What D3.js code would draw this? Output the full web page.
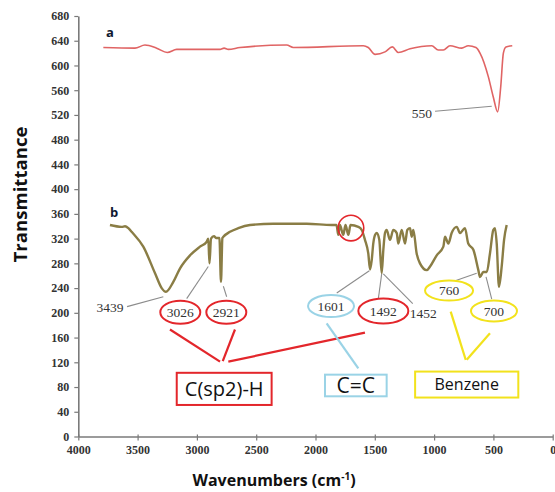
<!DOCTYPE html>
<html>
<head>
<meta charset="utf-8">
<script src="https://cdn.jsdelivr.net/npm/d3@7"></script>
<style>
  html, body { margin: 0; padding: 0; background: #fff; }
  svg { display: block; }
</style>
</head>
<body>
<div class="chart-container"></div>
<script>
const width = 555;
const height = 492;

// axis ticks
const xTicks = [4000, 3500, 3000, 2500, 2000, 1500, 1000, 500, 0];
const yTicks = d3.range(0, 681, 40);

// spectrum a (red)
const aWave  = [3789, 3522, 3438, 3339, 3250, 3170, 2805, 2771, 2735, 2637, 2243, 2187, 1597, 1555, 1498, 1414, 1352, 1302, 1203, 1020, 965, 922, 866, 767, 712, 647, 613, 543, 501, 464, 438, 416, 394, 341];
const aTrans = [629, 628, 633, 628, 621, 626, 626, 628, 626, 629, 633, 629, 632, 629, 618, 622, 630, 621, 627, 632, 625, 625, 632, 628, 632, 629, 620, 582, 549, 525, 566, 620, 630, 632];

// spectrum b (olive)
const bWave  = [3733, 3634, 3606, 3578, 3550, 3452, 3353, 3297, 3261, 3199, 3142, 3058, 2974, 2917, 2904, 2894, 2881, 2856, 2839, 2810, 2797, 2785, 2777, 2721, 2651, 2552, 2356, 2074, 1863, 1823, 1808, 1794, 1766, 1747, 1723, 1705, 1639, 1610, 1583, 1555, 1540, 1526, 1513, 1498, 1484, 1462, 1442, 1428, 1414, 1400, 1372, 1344, 1315, 1302, 1273, 1245, 1226, 1203, 1189, 1175, 1147, 1119, 1062, 1034, 978, 922, 908, 880, 852, 809, 782, 740, 712, 669, 627, 613, 585, 556, 529, 501, 487, 472, 453, 430, 410, 388];
const bTrans = [342, 339, 340, 337, 331, 307, 264, 240, 234, 250, 272, 293, 307, 315, 320, 280, 320, 324, 321, 321, 250, 321, 323, 331, 337, 342, 344, 344, 342, 342, 326, 342, 326, 342, 326, 342, 339, 334, 318, 296, 270, 285, 312, 326, 329, 318, 264, 302, 329, 334, 318, 334, 329, 312, 334, 312, 334, 337, 323, 334, 296, 280, 269, 275, 293, 307, 323, 312, 329, 339, 329, 337, 312, 302, 269, 258, 266, 266, 296, 334, 337, 312, 242, 275, 318, 342];

// peak labels: text, position (wavenumber, transmittance), outline colour, leader lines
const peakText   = ["3439", "3026", "2921", "1601", "1492", "1452", "760", "700", "550"];
const peakWave   = [3733, 3140, 2752, 1869, 1428, 1091, 874, 495, 1104];
const peakTrans  = [209, 201, 201, 211, 203, 199, 236, 203, 523];
const peakRing   = [null, "#e3262b", "#e3262b", "#9ad3e6", "#e3262b", null, "#f2e21c", "#f2e21c", null];
const peakRx     = [0, 20, 20, 23, 25, 0, 24, 23, 0];
const peakRy     = [0, 11.5, 11.5, 11, 12.5, 0, 10, 10.5, 0];
const leaders = [
  [3589, 210, 3283, 226],
  [3086, 223, 2904, 275],
  [2749, 226, 2777, 243],
  [1821, 232, 1546, 268],
  [1470, 223, 1442, 263],
  [1428, 263, 1180, 215],
  [852, 250, 641, 264],
  [514, 222, 562, 258],
  [992, 526, 514, 534]
];

// group boxes and their connector lines
const groupText  = ["C(sp2)-H", "C=C", "Benzene"];
const groupColor = ["#e3262b", "#9ad3e6", "#f2e21c"];
const groupBox   = [[3170, 103, 2370, 51], [1920, 100, 1400, 65], [1160, 105, 290, 63]];
const groupSize  = [20, 21, 16];
const groupLines = [
  [[3227, 173, 2805, 121], [2679, 173, 2782, 122], [1583, 168, 2735, 121]],
  [[1906, 183, 1639, 110]],
  [[860, 202, 733, 124], [529, 167, 725, 124]]
];

const x = d3.scaleLinear().domain([4000, 0]).range([78.3, 552.7]);
const y = d3.scaleLinear().domain([0, 680]).range([436.5, 16]);

const svg = d3.select(".chart-container").append("svg")
  .attr("width", width)
  .attr("height", height);

// axes
const yAxis = svg.append("g")
  .attr("transform", `translate(${x(4000)},0)`)
  .call(d3.axisLeft(y).tickValues(yTicks).tickFormat(d3.format("d")).tickSize(4).tickSizeOuter(0).tickPadding(5));
const xAxis = svg.append("g")
  .attr("transform", `translate(0,${y(0)})`)
  .call(d3.axisBottom(x).tickValues(xTicks).tickFormat(d3.format("d")).tickSize(4).tickSizeOuter(0).tickPadding(5));

[xAxis, yAxis].forEach(g => {
  g.select(".domain").attr("stroke", "#7a7a7a").attr("stroke-width", 1.6);
  g.selectAll(".tick line").attr("stroke", "#7a7a7a").attr("stroke-width", 1.2);
  g.selectAll(".tick text")
    .attr("fill", "#333")
    .style("font", "bold 12px 'Liberation Serif', serif");
});
xAxis.selectAll(".tick line").attr("y1", -2);

// titles
svg.append("text")
  .attr("transform", `translate(27,${(127 + 262) / 2}) rotate(-90)`)
  .attr("text-anchor", "middle")
  .attr("textLength", 136)
  .attr("lengthAdjust", "spacingAndGlyphs")
  .style("font", "bold 17px 'Open Sans', sans-serif")
  .attr("fill", "#111")
  .text("Transmittance");

const xt = svg.append("text")
  .attr("x", 274)
  .attr("y", 486)
  .attr("text-anchor", "middle")
  .style("font", "bold 16px 'Open Sans', sans-serif")
  .attr("fill", "#111");
xt.append("tspan").text("Wavenumbers (cm");
xt.append("tspan").attr("dy", -6).style("font-size", "10px").text("-1");
xt.append("tspan").attr("dy", 6).text(")");

// spectra
const line = d3.line().x(d => x(d[0])).y(d => y(d[1])).curve(d3.curveMonotoneX);

svg.append("path")
  .datum(d3.zip(aWave, aTrans))
  .attr("d", line)
  .attr("fill", "none")
  .attr("stroke", "#e06464")
  .attr("stroke-width", 1.6)
  .attr("stroke-linejoin", "round");

svg.append("path")
  .datum(d3.zip(bWave, bTrans))
  .attr("d", line)
  .attr("fill", "none")
  .attr("stroke", "#8a7d45")
  .attr("stroke-width", 2.4)
  .attr("stroke-linejoin", "round");

// spectrum letters
svg.append("text").attr("x", x(3733)).attr("y", y(654)).attr("dy", "0.35em")
  .attr("text-anchor", "middle")
  .style("font", "bold 13px 'Open Sans', sans-serif").attr("fill", "#101830").text("a");
svg.append("text").attr("x", x(3699)).attr("y", y(363)).attr("dy", "0.35em")
  .attr("text-anchor", "middle")
  .style("font", "bold 13px 'Open Sans', sans-serif").attr("fill", "#101830").text("b");

// small circle around the overtone region
svg.append("circle")
  .attr("cx", x(1701)).attr("cy", y(337)).attr("r", 12.8)
  .attr("fill", "none").attr("stroke", "#e3262b").attr("stroke-width", 1.6);

// leaders
svg.append("g").selectAll("line").data(leaders).join("line")
  .attr("x1", d => x(d[0])).attr("y1", d => y(d[1]))
  .attr("x2", d => x(d[2])).attr("y2", d => y(d[3]))
  .attr("stroke", "#8c8c8c").attr("stroke-width", 1.1);

// peak labels
const peaks = svg.append("g").selectAll("g").data(peakText).join("g")
  .attr("transform", (d, i) => `translate(${x(peakWave[i])},${y(peakTrans[i])})`);
peaks.filter((d, i) => peakRing[i])
  .append("ellipse")
  .attr("rx", d => peakRx[peakText.indexOf(d)])
  .attr("ry", d => peakRy[peakText.indexOf(d)])
  .attr("fill", "#fff")
  .attr("stroke", d => peakRing[peakText.indexOf(d)])
  .attr("stroke-width", 2);
peaks.append("text")
  .attr("text-anchor", "middle")
  .attr("dy", "0.35em")
  .style("font", "13.5px 'Liberation Serif', serif")
  .attr("fill", "#333")
  .text(d => d);

// group connectors and boxes
groupText.forEach((t, i) => {
  svg.append("g").selectAll("line").data(groupLines[i]).join("line")
    .attr("x1", d => x(d[0])).attr("y1", d => y(d[1]))
    .attr("x2", d => x(d[2])).attr("y2", d => y(d[3]))
    .attr("stroke", groupColor[i]).attr("stroke-width", 2.2);
  const b = groupBox[i];
  svg.append("rect")
    .attr("x", x(b[0])).attr("y", y(b[1]))
    .attr("width", x(b[2]) - x(b[0])).attr("height", y(b[3]) - y(b[1]))
    .attr("fill", "#fff").attr("stroke", groupColor[i]).attr("stroke-width", 2);
  svg.append("text")
    .attr("x", (x(b[0]) + x(b[2])) / 2)
    .attr("y", (y(b[1]) + y(b[3])) / 2)
    .attr("dy", "0.36em")
    .attr("text-anchor", "middle")
    .style("font", `${groupSize[i]}px 'Open Sans', sans-serif`)
    .attr("fill", "#111")
    .text(t);
});
</script>
</body>
</html>
